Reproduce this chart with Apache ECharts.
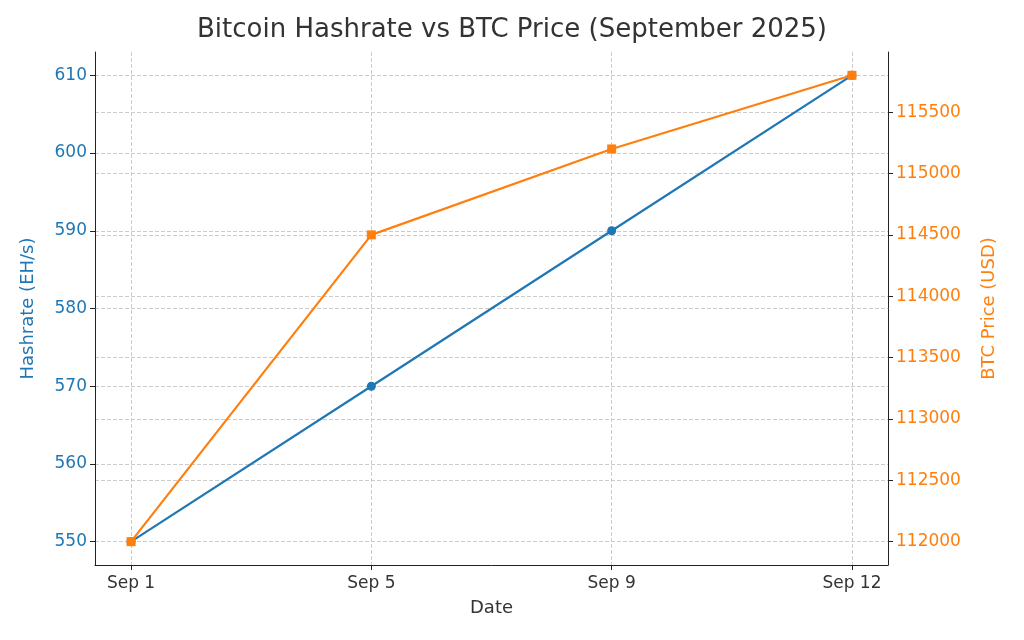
<!DOCTYPE html>
<html><head><meta charset="utf-8">
<script src="https://cdn.jsdelivr.net/npm/echarts@6/dist/echarts.min.js"></script>
<style>html,body{margin:0;padding:0;background:#fff}#c{width:1024px;height:640px}</style>
</head><body><div id="c"></div>
<script>
const categories = ['Sep 1','Sep 5','Sep 9','Sep 12'];
const hashrate = [550, 570, 590, 610];
const price = [112000, 114500, 115200, 115800];
const leftTicks = [550,560,570,580,590,600,610];
const rightTicks = [112000,112500,113000,113500,114000,114500,115000,115500];
const BLUE='#1f77b4', ORANGE='#ff7f0e', F='DejaVu Sans';
const chart = echarts.init(document.getElementById('c'));
const grid = {left:95,right:136,top:52,bottom:75};
chart.setOption({
  animation:false,
  title:{text:'Bitcoin Hashrate vs BTC Price (September 2025)',left:'center',top:12,textStyle:{fontFamily:F,fontSize:26,fontWeight:'normal',color:'#333'}},
  grid:grid,
  xAxis:{type:'value',min:-0.15,max:3.15,name:'Date',nameLocation:'middle',nameGap:34,
    nameTextStyle:{fontFamily:F,fontSize:18,color:'#333'},
    axisLine:{onZero:false,lineStyle:{color:'#222'}},
    axisTick:{customValues:[0,1,2,3],lineStyle:{color:'#222'}},
    axisLabel:{customValues:[0,1,2,3],formatter:v=>categories[Math.round(v)],fontFamily:F,fontSize:17,color:'#333',margin:10},
    splitLine:{show:true,lineStyle:{type:'dashed',color:'#ccc'}}},
  yAxis:[
    {type:'value',min:547,max:613,name:'Hashrate (EH/s)',nameLocation:'middle',nameGap:58,
     nameTextStyle:{fontFamily:F,fontSize:18,color:BLUE},
     axisLine:{show:true,onZero:false,lineStyle:{color:'#222'}},
     axisTick:{show:true,customValues:leftTicks,lineStyle:{color:'#222'}},
     axisLabel:{customValues:leftTicks,fontFamily:F,fontSize:17,color:BLUE},
     splitLine:{show:true,lineStyle:{type:'dashed',color:'#ccc'}}},
    {type:'value',min:111810,max:115990,name:'BTC Price (USD)',nameLocation:'middle',nameGap:92,nameRotate:90,
     nameTextStyle:{fontFamily:F,fontSize:18,color:ORANGE},
     axisLine:{show:true,onZero:false,lineStyle:{color:'#222'}},
     axisTick:{show:true,customValues:rightTicks,lineStyle:{color:'#222'}},
     axisLabel:{customValues:rightTicks,formatter:v=>String(v),fontFamily:F,fontSize:17,color:ORANGE},
     splitLine:{show:true,lineStyle:{type:'dashed',color:'#ccc'}}}
  ],
  series:[
    {type:'line',yAxisIndex:0,data:hashrate.map((v,i)=>[i,v]),color:BLUE,lineStyle:{width:2.2},symbol:'circle',symbolSize:9,itemStyle:{color:BLUE}},
    {type:'line',yAxisIndex:1,data:price.map((v,i)=>[i,v]),color:ORANGE,lineStyle:{width:2.2},symbol:'rect',symbolSize:9,itemStyle:{color:ORANGE}}
  ]
});
</script></body></html>
